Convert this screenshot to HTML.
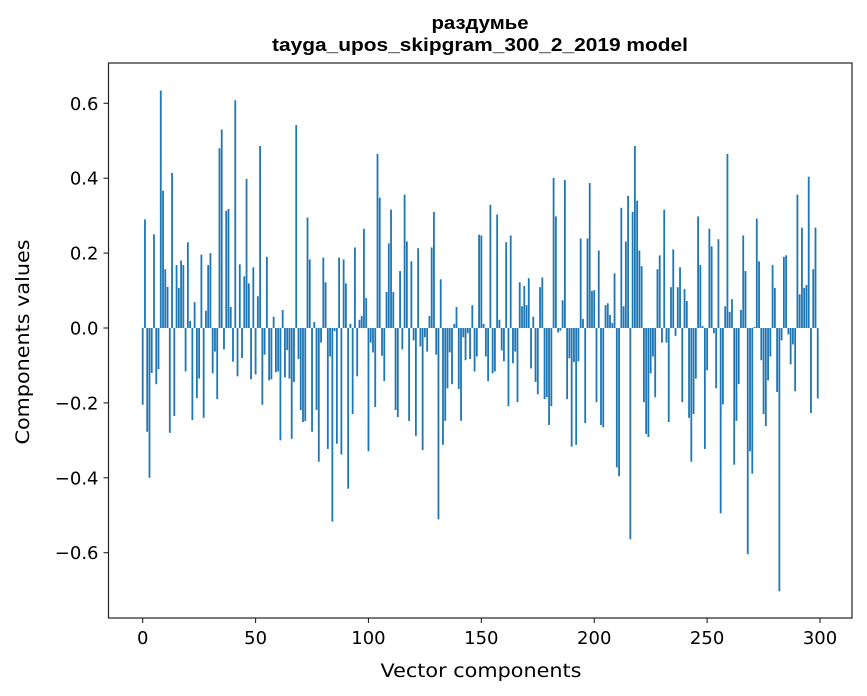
<!DOCTYPE html>
<html><head><meta charset="utf-8">
<style>
html,body{margin:0;padding:0;background:#fff;}
svg{display:block;font-family:"DejaVu Sans","Liberation Sans",sans-serif;}
</style></head>
<body>
<svg id="chart" width="867" height="696" viewBox="0 0 867 696" xmlns="http://www.w3.org/2000/svg">
<rect width="867" height="696" fill="#fff"/>
<text x="480" y="29" text-anchor="middle" font-size="18" font-weight="bold" font-family="Liberation Sans, sans-serif" textLength="97" lengthAdjust="spacingAndGlyphs">раздумье</text>
<text x="480" y="51" text-anchor="middle" font-size="18" font-weight="bold" font-family="Liberation Sans, sans-serif" textLength="416" lengthAdjust="spacingAndGlyphs">tayga_upos_skipgram_300_2_2019 model</text>
<g id="bars"></g>
<g id="axes"></g>
<text x="481" y="677" text-anchor="middle" font-size="19" textLength="201" lengthAdjust="spacingAndGlyphs">Vector components</text>
<text transform="translate(29,342) rotate(-90)" text-anchor="middle" font-size="19" textLength="205" lengthAdjust="spacingAndGlyphs">Components values</text>
</svg>
<script>
const values = [
-0.205,0.29,-0.277,-0.40,-0.12,0.25,-0.15,-0.11,0.634,0.367,
0.157,0.11,-0.28,0.414,-0.235,0.168,0.107,0.18,0.168,-0.116,
0.229,0.019,-0.246,0.069,-0.187,-0.135,0.196,-0.24,0.046,0.168,
0.2,-0.121,-0.063,-0.19,0.48,0.53,-0.057,0.313,0.318,0.056,
-0.09,0.608,-0.129,0.17,-0.08,0.138,0.398,0.119,-0.137,0.162,
-0.124,0.085,0.486,-0.205,-0.071,0.19,-0.14,-0.137,0.03,-0.118,
-0.116,-0.30,0.048,-0.132,-0.059,-0.135,-0.296,-0.144,0.542,-0.083,
-0.219,-0.251,-0.248,0.295,0.183,-0.277,0.016,-0.219,-0.357,-0.039,
0.188,0.122,-0.323,-0.076,-0.517,-0.008,-0.309,0.188,-0.338,0.183,
0.119,-0.429,0.011,-0.23,0.215,-0.129,0.022,0.032,0.265,0.08,
-0.329,-0.039,-0.065,-0.211,0.465,0.348,-0.074,-0.142,0.096,0.226,
0.316,0.096,-0.219,-0.238,0.152,-0.057,0.356,0.231,-0.248,0.178,
-0.033,-0.288,0.213,-0.049,-0.326,-0.025,-0.063,0.032,0.215,0.31,
-0.071,-0.511,0.13,-0.312,-0.248,-0.161,-0.065,-0.15,0.011,0.056,
-0.163,-0.248,-0.025,-0.086,-0.014,-0.083,0.061,-0.116,-0.076,0.249,
0.247,0.011,-0.076,-0.142,0.329,-0.121,-0.116,0.303,0.022,-0.06,
-0.089,0.229,-0.209,0.247,-0.094,-0.063,-0.198,0.122,0.058,0.112,
0.061,0.133,-0.108,0.03,-0.144,-0.177,0.109,0.135,-0.19,-0.185,
-0.259,-0.209,0.401,0.298,-0.012,-0.007,0.074,0.395,-0.19,-0.081,
-0.317,-0.091,-0.312,-0.089,0.239,0.024,-0.254,0.239,0.387,0.099,
0.101,-0.198,0.207,-0.259,-0.265,0.061,0.066,0.035,0.013,0.146,
-0.372,-0.396,0.321,0.058,0.231,0.353,-0.564,0.31,0.486,0.34,
0.207,0.165,-0.198,-0.283,-0.291,-0.121,-0.076,-0.185,0.157,0.194,
-0.039,0.316,-0.039,-0.251,0.109,0.21,-0.021,0.109,0.162,-0.198,
0.104,0.072,-0.24,-0.357,-0.23,-0.135,0.298,0.168,0.005,-0.323,
-0.113,0.265,0.218,-0.014,-0.161,0.237,-0.495,-0.204,0.058,0.465,
0.043,0.077,-0.365,-0.248,-0.15,0.048,0.247,0.152,-0.604,-0.329,
-0.389,0.003,0.292,0.178,-0.086,-0.23,-0.262,-0.14,-0.076,0.168,
0.107,-0.171,-0.703,-0.033,0.19,0.194,-0.017,-0.097,-0.044,-0.169,
0.356,0.09,0.268,0.107,0.115,0.404,-0.227,0.157,0.268,-0.188
];
const xTicks = [0,50,100,150,200,250,300];
const yTicks = [-0.6,-0.4,-0.2,0.0,0.2,0.4,0.6];
const yTickLabels = ["\u22120.6","\u22120.4","\u22120.2","0.0","0.2","0.4","0.6"];

const NS="http://www.w3.org/2000/svg";
const L=108.5,R=852,T=63,B=618;
function xs(i){return 142.7+i*(820-142.7)/300;}
function ys(v){return 328-v*374.5;}
const bw=0.8*(820-142.7)/300;
const bars=document.getElementById('bars');
values.forEach((v,i)=>{
  const r=document.createElementNS(NS,'rect');
  const y0=ys(0),y1=ys(v);
  r.setAttribute('x',xs(i)-bw/2);
  r.setAttribute('width',bw);
  r.setAttribute('y',Math.min(y0,y1));
  r.setAttribute('height',Math.abs(y1-y0));
  r.setAttribute('fill','#1f77b4');
  
  
  bars.appendChild(r);
});
const ax=document.getElementById('axes');
const frame=document.createElementNS(NS,'rect');
frame.setAttribute('x',L);frame.setAttribute('y',T);
frame.setAttribute('width',R-L);frame.setAttribute('height',B-T);
frame.setAttribute('fill','none');frame.setAttribute('stroke','#222');frame.setAttribute('stroke-width','1.2');


ax.appendChild(frame);
xTicks.forEach(t=>{
  const x=xs(t);
  const l=document.createElementNS(NS,'line');
  l.setAttribute('x1',x);l.setAttribute('x2',x);l.setAttribute('y1',B);l.setAttribute('y2',B+5);
  l.setAttribute('stroke','#222');l.setAttribute('stroke-width','1.1');
  
  
  ax.appendChild(l);
  const tx=document.createElementNS(NS,'text');
  tx.setAttribute('x',x);tx.setAttribute('y',B+26);tx.setAttribute('text-anchor','middle');tx.setAttribute('font-size','18');
  tx.textContent=String(t);
  
  
  ax.appendChild(tx);
});
yTicks.forEach((t,k)=>{
  const y=ys(t);
  const l=document.createElementNS(NS,'line');
  l.setAttribute('x1',L-5);l.setAttribute('x2',L);l.setAttribute('y1',y);l.setAttribute('y2',y);
  l.setAttribute('stroke','#222');l.setAttribute('stroke-width','1.1');
  
  
  ax.appendChild(l);
  const tx=document.createElementNS(NS,'text');
  tx.setAttribute('x',L-10);tx.setAttribute('y',y+6.5);tx.setAttribute('text-anchor','end');tx.setAttribute('font-size','18');
  tx.textContent=yTickLabels[k];
  
  
  ax.appendChild(tx);
});
</script>
</body></html>
